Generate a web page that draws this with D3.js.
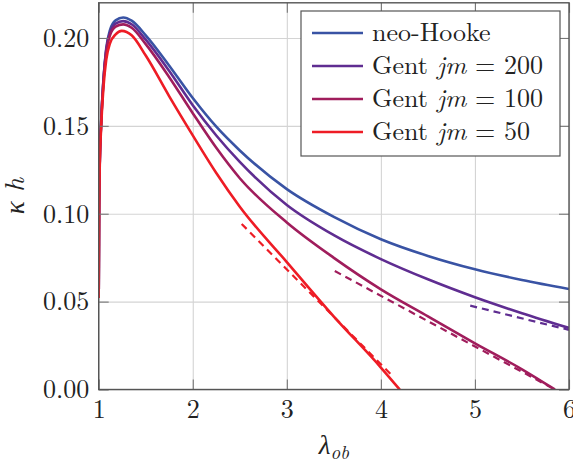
<!DOCTYPE html>
<html>
<head>
<meta charset="utf-8">
<script src="https://cdn.jsdelivr.net/npm/d3@7"></script>
<style>
  html, body { margin: 0; padding: 0; background: #fff; }
  svg text { font-family: "Latin Modern Roman", "Liberation Serif", serif; }
</style>
</head>
<body>
<div id="chart"></div>
<script>
// lambda_ob grid used by the curves
const lamGrid = [1.0, 1.004, 1.01, 1.025, 1.05, 1.08, 1.12, 1.18, 1.26, 1.35, 1.5, 1.75, 2.0, 2.25, 2.5, 3.0, 3.5, 4.0, 4.5, 5.0, 5.5, 6.0];

const neoHooke = [0.052, 0.100, 0.126, 0.151, 0.176, 0.194, 0.2045, 0.2100, 0.2116, 0.2098, 0.2015, 0.1842, 0.1658, 0.1495, 0.1360, 0.1140, 0.0982, 0.0855, 0.0760, 0.0684, 0.0623, 0.0572];
const gent200 = [0.052, 0.100, 0.1255, 0.1505, 0.1755, 0.1932, 0.2030, 0.2082, 0.2096, 0.2078, 0.1990, 0.1812, 0.1617, 0.1445, 0.1295, 0.1050, 0.0878, 0.0742, 0.0627, 0.0525, 0.0434, 0.0350];

const lamGent100 = [1.0, 1.004, 1.01, 1.025, 1.05, 1.08, 1.12, 1.18, 1.26, 1.35, 1.5, 1.75, 2.0, 2.25, 2.5, 3.0, 3.5, 4.0, 4.5, 5.0, 5.5, 5.85];
const gent100 = [0.052, 0.100, 0.125, 0.150, 0.175, 0.1922, 0.2015, 0.2064, 0.2077, 0.2058, 0.1965, 0.1777, 0.1572, 0.1375, 0.1202, 0.0950, 0.0749, 0.0570, 0.0416, 0.0263, 0.0115, 0.0];

const lamGent50 = [1.0, 1.004, 1.01, 1.025, 1.05, 1.08, 1.12, 1.18, 1.245, 1.35, 1.5, 1.75, 2.0, 2.25, 2.5, 3.0, 3.5, 4.0, 4.2];
const gent50 = [0.052, 0.0995, 0.124, 0.148, 0.1715, 0.1875, 0.1970, 0.2020, 0.2040, 0.2015, 0.1900, 0.1668, 0.1446, 0.1232, 0.1040, 0.0725, 0.0415, 0.0125, 0.0];

// dashed asymptotes (start / end)
const lamDash200 = [4.95, 6.0];
const dash200 = [0.0477, 0.0339];
const lamDash100 = [3.51, 5.85];
const dash100 = [0.0674, 0.0];
const lamDash50 = [2.52, 4.1];
const dash50 = [0.0942, 0.0090];

const xTicks = [1, 2, 3, 4, 5, 6];
const yTicks = [0, 0.05, 0.10, 0.15, 0.20];

const legendNames = ["neo-Hooke", "Gent", "Gent", "Gent"];
const legendJm = [null, 200, 100, 50];
const colors = ["#3953a4", "#5f2d91", "#a01d5c", "#ee1c25"];

const serif = '"Latin Modern Roman", "Liberation Serif", serif';

const W = 573, H = 464;
const margin = { top: 2.8, right: 4, bottom: 74.5, left: 98.7 };
const width = W - margin.left - margin.right;
const height = H - margin.top - margin.bottom;

const svg = d3.select("#chart")
  .append("svg")
  .attr("width", W)
  .attr("height", H);

const g = svg.append("g")
  .attr("transform", `translate(${margin.left},${margin.top})`);

const x = d3.scaleLinear().domain([1, 6]).range([0, width]);
const y = d3.scaleLinear().domain([0, 0.22]).range([height, 0]);

// grid
g.append("g")
  .attr("transform", `translate(0,${height})`)
  .call(d3.axisBottom(x).tickValues(xTicks).tickSize(-height).tickFormat(""))
  .call(s => s.select(".domain").remove())
  .selectAll("line").attr("stroke", "#d4d4d4").attr("stroke-width", 1.1);
g.append("g")
  .call(d3.axisLeft(y).tickValues(yTicks).tickSize(-width).tickFormat(""))
  .call(s => s.select(".domain").remove())
  .selectAll("line").attr("stroke", "#d4d4d4").attr("stroke-width", 1.1);

// curves
const line = d3.line()
  .x(d => x(d[0]))
  .y(d => y(d[1]))
  .curve(d3.curveMonotoneX);

const solid = [
  [lamGrid, neoHooke],
  [lamGrid, gent200],
  [lamGent100, gent100],
  [lamGent50, gent50]
];
const dashed = [
  [lamDash200, dash200, 1],
  [lamDash100, dash100, 2],
  [lamDash50, dash50, 3]
];

svg.append("clipPath").attr("id", "clip")
  .append("rect").attr("x", 0).attr("y", 0).attr("width", width).attr("height", height);

const plot = g.append("g").attr("clip-path", "url(#clip)");

plot.selectAll(".dash")
  .data(dashed)
  .enter()
  .append("path")
  .attr("class", "dash")
  .attr("d", d => line(d[0].map((l, i) => [l, d[1][i]])))
  .attr("fill", "none")
  .attr("stroke", d => colors[d[2]])
  .attr("stroke-width", 2.2)
  .attr("stroke-dasharray", "7,5");

plot.selectAll(".curve")
  .data(solid)
  .enter()
  .append("path")
  .attr("class", "curve")
  .attr("d", d => line(d[0].map((l, i) => [l, d[1][i]])))
  .attr("fill", "none")
  .attr("stroke", (d, i) => colors[i])
  .attr("stroke-width", 2.6);

// axes with inward ticks
const axisColor = "#555";
function styleAxis(s) {
  s.select(".domain").remove();
  s.selectAll("line").attr("stroke", "#777").attr("stroke-width", 1.1);
  s.selectAll("text")
    .attr("fill", "#222")
    .style("font-family", serif)
    .style("font-size", "26px");
}

g.append("g")
  .attr("transform", `translate(0,${height})`)
  .call(d3.axisBottom(x).tickValues(xTicks).tickSize(-10).tickPadding(10).tickFormat(d3.format("d")))
  .call(styleAxis);
g.append("g")
  .call(d3.axisTop(x).tickValues(xTicks).tickSize(-10).tickFormat(""))
  .call(styleAxis);
g.append("g")
  .call(d3.axisLeft(y).tickValues(yTicks).tickSize(-10).tickPadding(9.5).tickFormat(d3.format(".2f")))
  .call(styleAxis);
g.append("g")
  .attr("transform", `translate(${width},0)`)
  .call(d3.axisRight(y).tickValues(yTicks).tickSize(-10).tickFormat(""))
  .call(styleAxis);

g.append("rect")
  .attr("width", width)
  .attr("height", height)
  .attr("fill", "none")
  .attr("stroke", axisColor)
  .attr("stroke-width", 1.4);

// axis labels
svg.append("text")
  .attr("x", margin.left + width / 2)
  .attr("y", 454)
  .attr("text-anchor", "middle")
  .attr("fill", "#222")
  .style("font-family", serif)
  .style("font-size", "27px")
  .html('<tspan font-style="italic">λ</tspan><tspan font-style="italic" font-size="19" dy="5">ob</tspan>');

svg.append("text")
  .attr("transform", `translate(24,${margin.top + height / 2}) rotate(-90)`)
  .attr("text-anchor", "middle")
  .attr("fill", "#222")
  .style("font-family", serif)
  .style("font-size", "27px")
  .style("font-style", "italic")
  .text("κ h");

// legend
const legend = svg.append("g").attr("transform", "translate(301,11)");
legend.append("rect")
  .attr("width", 259)
  .attr("height", 145)
  .attr("fill", "#fff")
  .attr("stroke", axisColor)
  .attr("stroke-width", 1.2);

const rows = legend.selectAll(".row")
  .data(legendNames)
  .enter()
  .append("g")
  .attr("transform", (d, i) => `translate(0,${22 + i * 33})`);

rows.append("line")
  .attr("x1", 11).attr("x2", 62)
  .attr("stroke", (d, i) => colors[i])
  .attr("stroke-width", 2.6);

rows.append("text")
  .attr("x", 71)
  .attr("y", 8)
  .attr("fill", "#222")
  .style("font-family", serif)
  .style("font-size", "26px")
  .each(function(d, i) {
    const t = d3.select(this);
    t.append("tspan").text(d);
    if (legendJm[i] !== null) {
      t.append("tspan").attr("font-style", "italic").text(" jm");
      t.append("tspan").text(" = " + legendJm[i]);
    }
  });
</script>
</body>
</html>
